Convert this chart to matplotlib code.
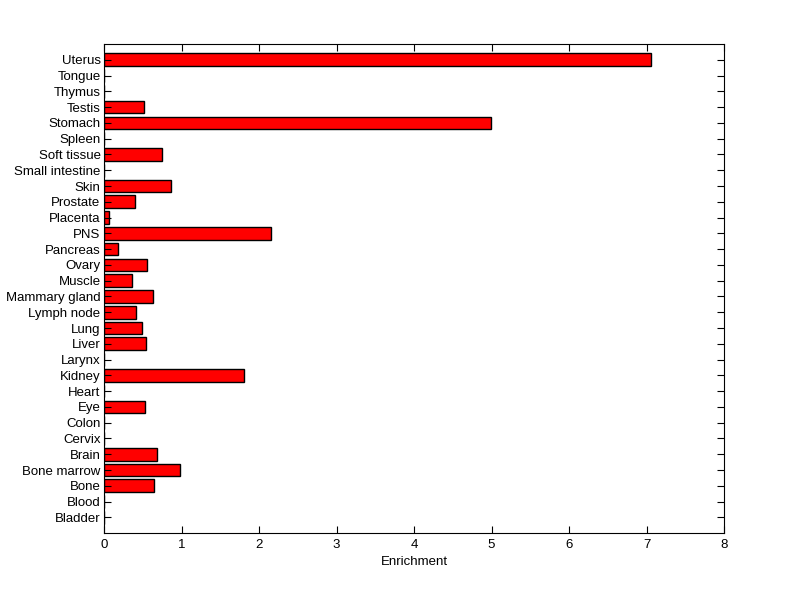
import matplotlib
matplotlib.use("Agg")
import matplotlib.pyplot as plt

tissues = ["Bladder", "Blood", "Bone", "Bone marrow", "Brain", "Cervix", "Colon", "Eye",
           "Heart", "Kidney", "Larynx", "Liver", "Lung", "Lymph node", "Mammary gland",
           "Muscle", "Ovary", "Pancreas", "PNS", "Placenta", "Prostate", "Skin",
           "Small intestine", "Soft tissue", "Spleen", "Stomach", "Testis", "Thymus",
           "Tongue", "Uterus"]
enrichment = [0, 0, 0.645, 0.98, 0.68, 0, 0, 0.535,
              0, 1.81, 0, 0.54, 0.495, 0.41, 0.63,
              0.36, 0.555, 0.18, 2.15, 0.065, 0.40, 0.865,
              0, 0.75, 0, 4.99, 0.52, 0, 0, 7.06]
xticks = [0, 1, 2, 3, 4, 5, 6, 7, 8]

plt.rcParams['font.family'] = ['Liberation Sans', 'DejaVu Sans']
fig = plt.figure(figsize=(8, 5.99), dpi=100)
ax = fig.add_axes([0.13, 0.11, 0.775, 0.8165])
pos = list(range(1, len(tissues) + 1))
vals = [v if v > 0 else 0 for v in enrichment]
ax.barh(pos, vals, height=0.8, color='#ff0000', edgecolor='black', linewidth=1.0)
ax.set_ylim(0, len(tissues) + 1)
ax.set_xlim(0, 8)
ax.set_xticks(xticks)
ax.set_yticks(pos)
ax.set_yticklabels(tissues)
ax.tick_params(axis='y', pad=2.5)
ax.tick_params(direction='in', length=5, width=0.8, top=True, right=True,
               labelsize=9.5)
ax.tick_params(axis='x', pad=4)
ax.set_xlabel("Enrichment", fontsize=9.5, labelpad=4)
for s in ax.spines.values():
    s.set_linewidth(0.8)
fig.savefig("out.png", dpi=100, facecolor='white')
